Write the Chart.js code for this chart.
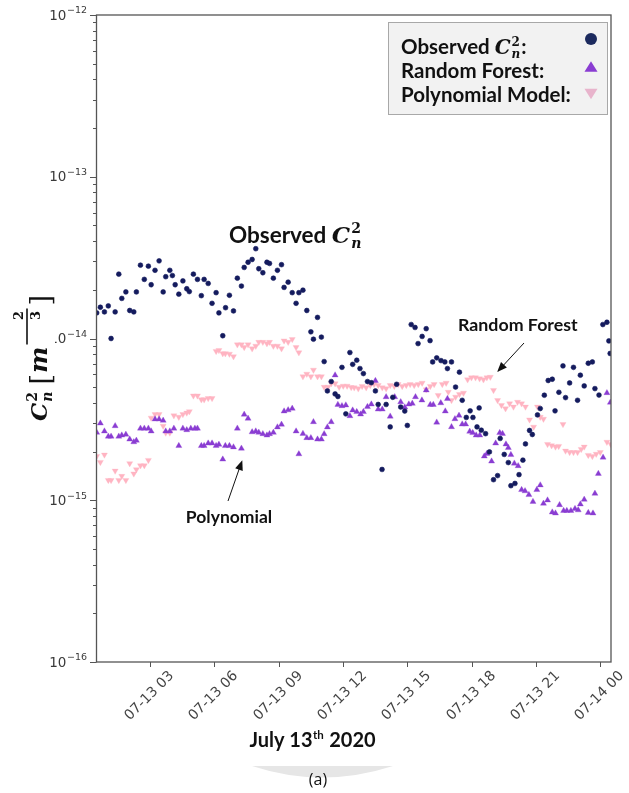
<!DOCTYPE html>
<html>
<head>
<meta charset="utf-8">
<script src="https://cdn.jsdelivr.net/npm/chart.js@4.4.1/dist/chart.umd.min.js"></script>
<style>
  html, body { margin: 0; padding: 0; background: #fff; }
  #wrap { width: 629px; height: 793px; position: relative; }
</style>
</head>
<body>
<div id="wrap"><canvas id="cn2Chart"></canvas></div>
<script>
// [hour of July 13, Cn2 in m^-2/3]
const observed = [
  [0.51,1.44e-14],[0.68,1.56e-14],[0.87,1.46e-14],[1.05,1.59e-14],[1.18,1.00e-14],[1.37,1.46e-14],[1.54,2.50e-14],[1.68,1.77e-14],[1.87,1.94e-14],[2.05,1.49e-14],
  [2.24,1.46e-14],[2.36,1.94e-14],[2.55,2.84e-14],[2.73,2.32e-14],[2.92,2.80e-14],[3.05,2.15e-14],[3.23,2.64e-14],[3.42,3.02e-14],[3.61,1.94e-14],[3.73,2.41e-14],
  [3.92,2.64e-14],[4.04,2.45e-14],[4.17,2.15e-14],[4.34,1.88e-14],[4.53,2.27e-14],[4.71,2.03e-14],[4.83,1.95e-14],[5.02,2.50e-14],[5.21,2.32e-14],[5.39,1.84e-14],
  [5.52,2.32e-14],[5.71,2.19e-14],[5.89,1.65e-14],[6.08,1.92e-14],[6.21,1.44e-14],[6.39,1.04e-14],[6.52,1.55e-14],[6.70,1.85e-14],[6.89,1.48e-14],[7.07,2.36e-14],
  [7.26,2.11e-14],[7.39,2.75e-14],[7.57,2.96e-14],[7.76,3.08e-14],[7.93,3.59e-14],[8.07,2.70e-14],[8.26,2.55e-14],[8.45,2.96e-14],[8.57,2.91e-14],[8.75,2.36e-14],
  [8.94,2.64e-14],[9.13,2.86e-14],[9.25,2.07e-14],[9.44,2.23e-14],[9.63,1.92e-14],[9.81,1.65e-14],[9.94,1.92e-14],[10.13,1.99e-14],[10.31,1.49e-14],[10.50,1.10e-14],
  [10.62,0.99e-14],[10.81,1.35e-14],[10.99,1.02e-14],[11.12,7.2e-15],[11.27,4.74e-15],[11.45,5.42e-15],[11.63,4.54e-15],[11.76,4.38e-15],[11.95,6.63e-15],[12.13,3.42e-15],
  [12.32,8.19e-15],[12.45,6.92e-15],[12.64,7.34e-15],[12.79,6.52e-15],[12.95,6.07e-15],[13.14,5.42e-15],[13.32,5.33e-15],[13.51,4.74e-15],[13.64,3.91e-15],[13.82,1.55e-15],
  [14.01,3.91e-15],[14.20,2.84e-15],[14.32,4.33e-15],[14.50,5.21e-15],[14.69,3.77e-15],[14.88,3.56e-15],[15.00,2.90e-15],[15.18,1.22e-14],[15.36,1.17e-14],[15.50,9.3e-15],
  [15.69,1.03e-14],[15.88,1.15e-14],[16.06,9.7e-15],[16.18,7.16e-15],[16.37,7.59e-15],[16.57,7.30e-15],[16.75,7.16e-15],[16.87,6.52e-15],[17.06,7.16e-15],[17.25,5.01e-15],
  [17.43,6.19e-15],[17.56,4.15e-15],[17.75,3.25e-15],[17.93,3.57e-15],[18.06,3.25e-15],[18.25,2.84e-15],[18.35,3.72e-15],[18.45,2.71e-15],[18.65,2.58e-15],[18.83,1.99e-15],
  [19.02,1.34e-15],[19.21,1.42e-15],[19.33,2.41e-15],[19.52,1.92e-15],[19.71,1.71e-15],[19.83,1.23e-15],[20.02,1.27e-15],[20.21,1.44e-15],[20.39,1.77e-15],[20.51,2.23e-15],
  [20.70,2.70e-15],[20.83,2.55e-15],[21.07,3.37e-15],[21.20,3.69e-15],[21.39,4.46e-15],[21.57,5.50e-15],[21.76,5.60e-15],[21.89,3.57e-15],[22.07,4.65e-15],[22.26,6.77e-15],
  [22.38,4.31e-15],[22.57,5.31e-15],[22.75,6.63e-15],[22.94,4.15e-15],[23.07,5.93e-15],[23.25,5.09e-15],[23.44,7.03e-15],[23.63,7.16e-15],[23.75,4.90e-15],[23.94,4.47e-15],
  [24.12,1.22e-14],[24.31,1.26e-14],[24.40,9.66e-15],[24.46,8.08e-15]
];

const randomForest = [
  [0.51,2.62e-15],[0.68,2.99e-15],[0.87,2.67e-15],[1.05,2.48e-15],[1.18,2.48e-15],[1.37,2.88e-15],[1.54,2.48e-15],[1.68,2.52e-15],[1.87,2.55e-15],[2.05,2.38e-15],
  [2.24,2.29e-15],[2.36,2.34e-15],[2.55,2.78e-15],[2.73,2.78e-15],[2.92,2.78e-15],[3.05,2.67e-15],[3.23,3.17e-15],[3.42,3.17e-15],[3.61,3.11e-15],[3.73,2.67e-15],
  [3.92,2.67e-15],[4.11,2.78e-15],[4.34,2.17e-15],[4.53,2.78e-15],[4.71,2.72e-15],[4.90,2.78e-15],[5.09,2.78e-15],[5.21,2.78e-15],[5.39,2.17e-15],[5.52,2.17e-15],
  [5.71,2.25e-15],[5.89,2.25e-15],[6.08,2.17e-15],[6.21,2.21e-15],[6.39,1.79e-15],[6.51,2.17e-15],[6.70,2.17e-15],[6.89,2.13e-15],[7.07,2.78e-15],[7.26,2.09e-15],
  [7.39,3.39e-15],[7.57,3.20e-15],[7.76,2.64e-15],[7.93,2.67e-15],[8.07,2.62e-15],[8.26,2.57e-15],[8.45,2.52e-15],[8.57,2.57e-15],[8.75,2.62e-15],[8.94,2.83e-15],
  [9.13,2.94e-15],[9.25,3.55e-15],[9.44,3.61e-15],[9.63,3.69e-15],[9.81,2.67e-15],[9.94,1.93e-15],[10.13,2.58e-15],[10.31,2.43e-15],[10.50,2.43e-15],[10.62,3.05e-15],
  [10.81,2.38e-15],[10.99,2.38e-15],[11.12,2.57e-15],[11.27,2.83e-15],[11.45,3.05e-15],[11.63,5.93e-15],[11.76,3.90e-15],[11.95,3.83e-15],[12.13,3.87e-15],[12.32,3.32e-15],
  [12.45,3.60e-15],[12.64,3.52e-15],[12.82,3.40e-15],[12.95,3.52e-15],[13.14,3.78e-15],[13.32,3.92e-15],[13.51,5.48e-15],[13.64,3.65e-15],[13.83,3.65e-15],[14.01,4.35e-15],
  [14.20,3.30e-15],[14.41,4.35e-15],[14.69,4.05e-15],[14.88,3.76e-15],[15.07,3.92e-15],[15.23,3.96e-15],[15.38,4.35e-15],[15.68,4.15e-15],[15.88,4.79e-15],[16.07,3.90e-15],
  [16.21,3.90e-15],[16.37,3.03e-15],[16.56,3.99e-15],[16.77,3.55e-15],[16.87,4.24e-15],[17.06,2.84e-15],[17.22,3.18e-15],[17.41,3.34e-15],[17.56,2.95e-15],[17.72,2.95e-15],
  [17.91,2.66e-15],[18.05,2.61e-15],[18.21,2.52e-15],[18.38,2.52e-15],[18.59,1.87e-15],[18.71,1.94e-15],[18.93,1.74e-15],[19.12,2.25e-15],[19.31,2.61e-15],[19.44,2.58e-15],
  [19.60,2.22e-15],[19.71,2.11e-15],[19.83,1.91e-15],[19.99,1.69e-15],[20.17,1.63e-15],[20.33,1.16e-15],[20.49,1.14e-15],[20.67,1.08e-15],[20.86,0.98e-15],[21.04,1.16e-15],
  [21.20,1.24e-15],[21.35,0.955e-15],[21.54,1.00e-15],[21.76,0.843e-15],[21.91,0.831e-15],[22.10,0.936e-15],[22.29,0.862e-15],[22.44,0.862e-15],[22.63,0.862e-15],[22.82,0.886e-15],
  [22.97,0.869e-15],[23.07,0.945e-15],[23.25,1.01e-15],[23.44,0.837e-15],[23.66,0.831e-15],[23.75,1.10e-15],[23.91,1.46e-15],[24.13,1.84e-15],[24.31,4.61e-15],[24.47,4.02e-15]
];

const polynomial = [
  [0.51,1.87e-15],[0.68,1.72e-15],[0.87,1.91e-15],[1.05,1.33e-15],[1.18,1.33e-15],[1.37,1.52e-15],[1.54,1.33e-15],[1.68,1.41e-15],[1.87,1.33e-15],[2.05,1.69e-15],
  [2.24,1.46e-15],[2.36,1.55e-15],[2.55,1.64e-15],[2.73,1.64e-15],[2.92,1.77e-15],[3.05,3.23e-15],[3.23,3.40e-15],[3.42,3.40e-15],[3.61,2.88e-15],[3.73,2.61e-15],
  [3.92,2.61e-15],[4.11,3.34e-15],[4.34,3.27e-15],[4.53,3.40e-15],[4.71,3.47e-15],[4.83,3.54e-15],[5.02,4.43e-15],[5.21,4.43e-15],[5.39,4.19e-15],[5.52,4.19e-15],
  [5.71,4.27e-15],[5.89,4.27e-15],[6.08,8.35e-15],[6.21,8.46e-15],[6.39,8.08e-15],[6.51,8.08e-15],[6.70,8.03e-15],[6.89,7.74e-15],[7.07,9.17e-15],[7.26,9.17e-15],
  [7.39,8.82e-15],[7.57,9.17e-15],[7.76,8.66e-15],[7.93,8.99e-15],[8.07,9.50e-15],[8.26,9.50e-15],[8.45,9.32e-15],[8.57,9.50e-15],[8.75,8.99e-15],[8.94,8.99e-15],
  [9.13,8.66e-15],[9.25,9.70e-15],[9.44,9.50e-15],[9.63,9.89e-15],[9.81,8.82e-15],[9.94,8.19e-15],[10.13,5.82e-15],[10.31,6.04e-15],[10.50,5.82e-15],[10.62,6.39e-15],
  [10.81,5.82e-15],[10.99,5.82e-15],[11.12,5.01e-15],[11.30,5.01e-15],[11.45,5.27e-15],[11.63,5.27e-15],[11.82,5.01e-15],[12.01,5.09e-15],[12.19,5.09e-15],[12.38,4.99e-15],
  [12.52,4.97e-15],[12.71,4.90e-15],[12.89,5.07e-15],[13.08,4.97e-15],[13.27,5.14e-15],[13.45,5.21e-15],[13.64,5.14e-15],[13.83,4.97e-15],[14.01,4.90e-15],[14.20,5.14e-15],
  [14.39,5.07e-15],[14.57,5.21e-15],[14.76,5.07e-15],[14.95,5.14e-15],[15.13,5.21e-15],[15.32,5.14e-15],[15.51,5.21e-15],[15.69,5.31e-15],[15.88,4.83e-15],[16.07,5.07e-15],
  [16.25,5.21e-15],[16.44,4.46e-15],[16.63,5.21e-15],[16.81,5.31e-15],[16.91,4.67e-15],[17.06,4.15e-15],[17.25,4.35e-15],[17.43,4.52e-15],[17.62,4.61e-15],[17.81,5.57e-15],
  [17.99,5.73e-15],[18.18,5.73e-15],[18.37,5.65e-15],[18.55,5.57e-15],[18.71,5.73e-15],[18.87,5.78e-15],[19.02,4.79e-15],[19.21,4.15e-15],[19.39,3.87e-15],[19.58,3.69e-15],
  [19.77,3.96e-15],[19.95,3.78e-15],[20.14,4.05e-15],[20.33,3.96e-15],[20.51,3.78e-15],[20.70,3.15e-15],[20.89,2.84e-15],[21.07,3.78e-15],[21.20,3.27e-15],[21.35,3.18e-15],
  [21.54,2.22e-15],[21.73,2.18e-15],[21.91,2.14e-15],[22.06,2.16e-15],[22.26,2.95e-15],[22.38,2.02e-15],[22.57,1.98e-15],[22.75,1.98e-15],[22.94,1.98e-15],[23.11,2.07e-15],
  [23.25,2.14e-15],[23.44,1.90e-15],[23.63,1.87e-15],[23.81,1.93e-15],[24.00,1.98e-15],[24.31,2.29e-15],[24.49,2.22e-15]
];

const tickHours = [3, 6, 9, 12, 15, 18, 21, 24];
const tickLabels = ['07-13 03', '07-13 06', '07-13 09', '07-13 12', '07-13 15', '07-13 18', '07-13 21', '07-14 00'];
const decades = [-16, -15, -14, -13, -12];

const NAVY = '#141b5e';
const PURPLE = '#8a3dd2';
const PINK = '#ffb4c2';
const SERIF = '"DejaVu Serif"';
const SANS = 'Lato';

function toPoints(series) {
  return series.map(p => ({ x: p[0], y: p[1] }));
}

// bold italic C with ^2 and _n, returns the x where it ends
function drawCn2(ctx, x, y, size) {
  ctx.textBaseline = 'alphabetic';
  ctx.textAlign = 'left';
  ctx.font = 'italic bold ' + size + 'px ' + SERIF;
  ctx.fillText('C', x, y);
  const wc = ctx.measureText('C').width;
  const small = Math.round(size * 0.62);
  ctx.font = 'bold ' + small + 'px ' + SERIF;
  ctx.fillText('2', x + wc + 1, y - size * 0.42);
  const w2 = ctx.measureText('2').width;
  ctx.font = 'italic bold ' + small + 'px ' + SERIF;
  ctx.fillText('n', x + wc + 1, y + size * 0.22);
  const wn = ctx.measureText('n').width;
  return x + wc + 1 + Math.max(w2, wn);
}

function drawTriangle(ctx, x, y, half, down) {
  const h = half * 1.6;
  ctx.beginPath();
  if (down) {
    ctx.moveTo(x - half, y - h / 2);
    ctx.lineTo(x + half, y - h / 2);
    ctx.lineTo(x, y + h / 2);
  } else {
    ctx.moveTo(x - half, y + h / 2);
    ctx.lineTo(x + half, y + h / 2);
    ctx.lineTo(x, y - h / 2);
  }
  ctx.closePath();
  ctx.fill();
}

function drawArrow(ctx, x1, y1, x2, y2) {
  const ang = Math.atan2(y2 - y1, x2 - x1);
  const len = 10, wid = 4;
  ctx.strokeStyle = '#111';
  ctx.fillStyle = '#111';
  ctx.lineWidth = 1;
  ctx.beginPath();
  ctx.moveTo(x1, y1);
  ctx.lineTo(x2 - Math.cos(ang) * len * 0.8, y2 - Math.sin(ang) * len * 0.8);
  ctx.stroke();
  ctx.beginPath();
  ctx.moveTo(x2, y2);
  ctx.lineTo(x2 - Math.cos(ang) * len - Math.sin(ang) * wid, y2 - Math.sin(ang) * len + Math.cos(ang) * wid);
  ctx.lineTo(x2 - Math.cos(ang) * len + Math.sin(ang) * wid, y2 - Math.sin(ang) * len - Math.cos(ang) * wid);
  ctx.closePath();
  ctx.fill();
}

const decorations = {
  id: 'decorations',
  afterDraw(chart) {
    const ctx = chart.ctx;
    const ca = chart.chartArea;
    const xs = chart.scales.x;
    const ys = chart.scales.y;
    ctx.save();

    // frame
    ctx.strokeStyle = '#555';
    ctx.lineWidth = 1.3;
    ctx.strokeRect(ca.left, ca.top, ca.right - ca.left, ca.bottom - ca.top);

    // y ticks: decades and minor steps
    ctx.strokeStyle = '#555';
    ctx.lineWidth = 1;
    decades.forEach(e => {
      const steps = e === -12 ? [1] : [1, 2, 3, 4, 5, 6, 7, 8, 9];
      steps.forEach(m => {
        const py = Math.round(ys.getPixelForValue(m * Math.pow(10, e))) + 0.5;
        const len = m === 1 ? 6.5 : 3.5;
        ctx.beginPath();
        ctx.moveTo(ca.left - len, py);
        ctx.lineTo(ca.left, py);
        ctx.stroke();
      });
      const py = ys.getPixelForValue(Math.pow(10, e));
      const sup = '\u2212' + Math.abs(e);
      ctx.fillStyle = '#3a3a3a';
      ctx.textBaseline = 'middle';
      ctx.textAlign = 'left';
      ctx.font = '13.5px "DejaVu Sans"';
      const wb = ctx.measureText('10').width;
      ctx.font = '9.5px "DejaVu Sans"';
      const ws = ctx.measureText(sup).width;
      const x0 = ca.left - 10 - wb - ws;
      ctx.font = '13.5px "DejaVu Sans"';
      ctx.fillText('10', x0, py + 1);
      ctx.font = '9.5px "DejaVu Sans"';
      ctx.fillText(sup, x0 + wb + 0.5, py - 4);
    });

    // x ticks, labels centred under the tick and turned 45 degrees
    tickHours.forEach((h, i) => {
      const px = Math.round(xs.getPixelForValue(h)) + 0.5;
      ctx.strokeStyle = '#555';
      ctx.beginPath();
      ctx.moveTo(px, ca.bottom);
      ctx.lineTo(px, ca.bottom + 5);
      ctx.stroke();
      ctx.save();
      ctx.translate(px - 1, ca.bottom + 34);
      ctx.rotate(-Math.PI / 4);
      ctx.fillStyle = '#444';
      ctx.font = '14px "DejaVu Sans"';
      ctx.textAlign = 'center';
      ctx.textBaseline = 'middle';
      ctx.fillText(tickLabels[i], 0, 0);
      ctx.restore();
    });

    // y axis title: Cn^2 [m^-2/3]
    ctx.fillStyle = '#fff';
    ctx.fillRect(12, 250, 43, 185);
    ctx.save();
    ctx.translate(47, 421);
    ctx.rotate(-Math.PI / 2);
    ctx.fillStyle = '#111';
    let cx = drawCn2(ctx, 0, 0, 23);
    cx += 7;
    ctx.font = '27px ' + SERIF;
    ctx.fillText('[', cx, 3);
    cx += ctx.measureText('[').width + 1;
    ctx.font = 'italic bold 25px ' + SERIF;
    ctx.fillText('m', cx, 0);
    cx += ctx.measureText('m').width + 2;
    ctx.strokeStyle = '#111';
    ctx.lineWidth = 1.6;
    ctx.beginPath();
    ctx.moveTo(cx, -20);
    ctx.lineTo(cx + 36, -20);
    ctx.stroke();
    ctx.font = 'bold 13px ' + SERIF;
    ctx.textAlign = 'center';
    ctx.fillText('2', cx + 29, -24);
    ctx.fillText('3', cx + 29, -7);
    ctx.textAlign = 'left';
    cx += 39;
    ctx.font = '27px ' + SERIF;
    ctx.fillText(']', cx, 3);
    ctx.restore();

    // x axis title
    ctx.fillStyle = '#111';
    ctx.textBaseline = 'alphabetic';
    ctx.textAlign = 'left';
    ctx.font = 'bold 20px ' + SANS;
    const p1 = 'July 13', p3 = ' 2020';
    const w1 = ctx.measureText(p1).width;
    const w3 = ctx.measureText(p3).width;
    ctx.font = 'bold 11.5px ' + SANS;
    const w2 = ctx.measureText('th').width;
    let tx = 312 - (w1 + w2 + w3) / 2;
    ctx.font = 'bold 20px ' + SANS;
    ctx.fillText(p1, tx, 747);
    ctx.font = 'bold 11.5px ' + SANS;
    ctx.fillText('th', tx + w1 + 0.5, 739);
    ctx.font = 'bold 20px ' + SANS;
    ctx.fillText(p3, tx + w1 + w2 + 1, 747);

    // panel tag
    ctx.fillStyle = '#e6e6e6';
    ctx.beginPath();
    ctx.moveTo(252, 766);
    ctx.lineTo(393, 766);
    ctx.quadraticCurveTo(322, 789, 252, 766);
    ctx.closePath();
    ctx.fill();
    ctx.fillStyle = '#111';
    ctx.font = '16px "Open Sans"';
    ctx.textAlign = 'center';
    ctx.fillText('(a)', 318, 785);
    ctx.textAlign = 'left';

    // legend box
    ctx.fillStyle = '#f2f2f2';
    ctx.fillRect(388.5, 22.5, 219, 92);
    ctx.strokeStyle = '#a8a8a8';
    ctx.lineWidth = 1;
    ctx.strokeRect(388.5, 22.5, 219, 92);
    ctx.fillStyle = '#111';
    ctx.font = 'bold 20.5px ' + SANS;
    ctx.fillText('Observed ', 401, 54);
    let lx = 401 + ctx.measureText('Observed ').width;
    lx = drawCn2(ctx, lx, 54, 20);
    ctx.font = 'bold 20.5px ' + SANS;
    ctx.fillText(':', lx + 1, 54);
    ctx.fillText('Random Forest:', 401, 78);
    ctx.fillText('Polynomial Model:', 401, 102);
    ctx.fillStyle = '#1c2a5e';
    ctx.beginPath();
    ctx.arc(591, 39, 6, 0, Math.PI * 2);
    ctx.fill();
    ctx.fillStyle = PURPLE;
    drawTriangle(ctx, 591, 66.5, 6.5, false);
    ctx.fillStyle = '#e8b4cc';
    drawTriangle(ctx, 591, 94, 6.5, true);

    // annotations
    ctx.fillStyle = '#111';
    ctx.font = 'bold 22.5px ' + SANS;
    ctx.fillText('Observed ', 229, 243);
    drawCn2(ctx, 229 + ctx.measureText('Observed ').width, 243, 23);

    ctx.fillStyle = '#111';
    ctx.font = 'bold 17.8px ' + SANS;
    ctx.fillText('Random Forest', 458, 331);
    drawArrow(ctx, 524, 343, xs.getPixelForValue(19.19), ys.getPixelForValue(6.2e-15));

    ctx.fillStyle = '#111';
    ctx.font = 'bold 17.5px ' + SANS;
    ctx.textAlign = 'center';
    ctx.fillText('Polynomial', 229, 523);
    ctx.textAlign = 'left';
    drawArrow(ctx, 228, 501, xs.getPixelForValue(7.3), ys.getPixelForValue(1.77e-15));

    ctx.restore();
  }
};

new Chart(document.getElementById('cn2Chart'), {
  type: 'scatter',
  data: {
    datasets: [
      {
        label: 'Observed',
        data: toPoints(observed),
        pointStyle: 'circle',
        pointRadius: 2.4,
        backgroundColor: NAVY,
        borderColor: NAVY,
        borderWidth: 0.6,
        order: 0
      },
      {
        label: 'Random Forest',
        data: toPoints(randomForest),
        pointStyle: 'triangle',
        pointRadius: 3.5,
        backgroundColor: PURPLE,
        borderColor: PURPLE,
        borderWidth: 0.3,
        order: 1
      },
      {
        label: 'Polynomial Model',
        data: toPoints(polynomial),
        pointStyle: 'triangle',
        rotation: 180,
        pointRadius: 3.5,
        backgroundColor: PINK,
        borderColor: PINK,
        borderWidth: 0.3,
        order: 2
      }
    ]
  },
  options: {
    responsive: true,
    maintainAspectRatio: false,
    animation: false,
    layout: { padding: { top: 15, right: 18, left: 0, bottom: 0 } },
    plugins: {
      legend: { display: false },
      tooltip: { enabled: false }
    },
    scales: {
      x: {
        type: 'linear',
        min: 0.5,
        max: 24.5,
        grid: { display: false },
        border: { display: false },
        ticks: { display: false },
        afterBuildTicks: s => { s.ticks = tickHours.map(v => ({ value: v })); },
        afterFit: s => { s.height = 131; }
      },
      y: {
        type: 'logarithmic',
        min: 1e-16,
        max: 1e-12,
        grid: { display: false },
        border: { display: false },
        ticks: { display: false },
        afterFit: s => { s.width = 96.5; }
      }
    }
  },
  plugins: [decorations]
});
</script>
</body>
</html>
